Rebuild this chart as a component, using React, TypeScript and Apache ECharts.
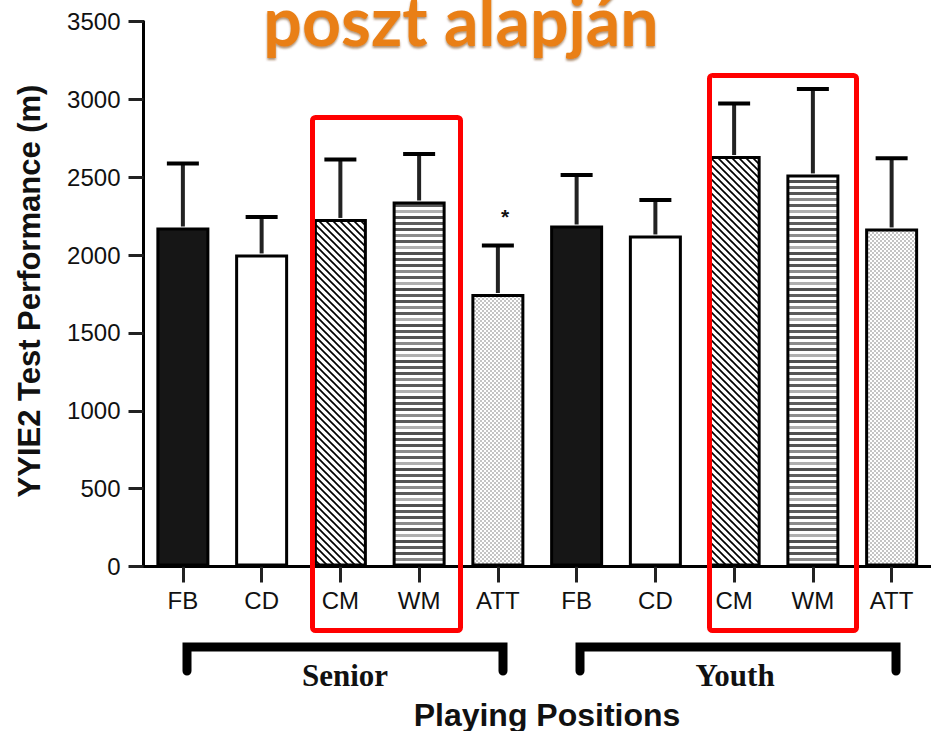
import React, { useEffect, useRef } from 'react';
import * as echarts from 'echarts';

// Playing positions, repeated for the senior and the youth group
const positions = ['FB', 'CD', 'CM', 'WM', 'ATT', 'FB', 'CD', 'CM', 'WM', 'ATT'];
const groupNames = ['Senior', 'Youth'];

// Yo-Yo IE2 distance (m): means and standard deviations
const seniorMeans = [2177, 2004, 2232, 2344, 1750];
const seniorSD = [411, 241, 382, 305, 311];
const youthMeans = [2190, 2126, 2636, 2518, 2171];
const youthSD = [324, 228, 338, 549, 450];

const yMin = 0;
const yMax = 3500;
const yStep = 500;

const titleText = 'poszt alapján';
const yAxisTitle = 'YYIE2 Test Performance (m)';
const xAxisTitle = 'Playing Positions';
const significanceMark = '*';

function makeTile(w: number, h: number, draw: (ctx: CanvasRenderingContext2D) => void) {
  const c = document.createElement('canvas');
  c.width = w;
  c.height = h;
  const ctx = c.getContext('2d')!;
  ctx.fillStyle = '#ffffff';
  ctx.fillRect(0, 0, w, h);
  draw(ctx);
  return c;
}

function buildFills() {
  const hatch = makeTile(7, 7, (ctx) => {
    ctx.strokeStyle = '#000';
    ctx.lineWidth = 1.7;
    for (let k = -1; k <= 1; k++) {
      ctx.beginPath();
      ctx.moveTo(k * 7 - 1, -1);
      ctx.lineTo(k * 7 + 8, 8);
      ctx.stroke();
    }
  });
  const stripes = makeTile(4, 36, (ctx) => {
    const greys = ['#505050', '#5e5e5e', '#555', '#8c8c8c', '#5a5a5a', '#b0b0b0'];
    greys.forEach((g, i) => {
      ctx.fillStyle = g;
      ctx.fillRect(0, i * 6, 4, 3);
    });
  });
  const checker = makeTile(4, 4, (ctx) => {
    ctx.fillStyle = '#c4c4c4';
    ctx.fillRect(0, 0, 2, 2);
    ctx.fillRect(2, 2, 2, 2);
  });
  const pat = (img: HTMLCanvasElement) => ({
    image: img,
    repeat: 'repeat',
    imageWidth: img.width,
    imageHeight: img.height,
  });
  return ['#161616', '#ffffff', pat(hatch), pat(stripes), pat(checker)];
}

function label(text: string, x: number, y: number, font: string, extra: any = {}) {
  return {
    type: 'text',
    x,
    y,
    ...extra,
    style: {
      text,
      font,
      fill: '#111',
      align: 'center',
      verticalAlign: 'middle',
      ...(extra.style || {}),
    },
  };
}

export default function App() {
  const ref = useRef<HTMLDivElement>(null);

  useEffect(() => {
    document.body.style.margin = '0';
    document.body.style.overflow = 'hidden';
    if (!ref.current) return;
    const chart = echarts.init(ref.current, undefined, { renderer: 'svg' });
    const fills = buildFills();

    const means = [...seniorMeans, ...youthMeans];
    const sds = [...seniorSD, ...youthSD];

    const barData = means.map((v, i) => ({
      value: v,
      itemStyle: { color: fills[i % 5] as any },
    }));
    const errData = means.map((v, i) => [i, v, sds[i]]);

    const axisFont = '"Liberation Sans", Arial, sans-serif';
    const serifFont = '"Liberation Serif", "Times New Roman", serif';

    chart.setOption({
      animation: false,
      backgroundColor: '#ffffff',
      grid: { left: 143.5, top: 21.5, width: 800, height: 545, containLabel: false },
      xAxis: {
        type: 'category',
        data: positions,
        boundaryGap: true,
        axisLine: { show: true, lineStyle: { color: '#000', width: 3 } },
        axisTick: { show: true, alignWithLabel: true, length: 16, lineStyle: { color: '#222', width: 3 } },
        axisLabel: { color: '#111', fontSize: 24, fontFamily: axisFont, margin: 22, interval: 0 },
        splitLine: { show: false },
      },
      yAxis: {
        type: 'value',
        min: yMin,
        max: yMax,
        interval: yStep,
        axisLine: { show: true, lineStyle: { color: '#000', width: 3 } },
        axisTick: { show: true, length: 15, lineStyle: { color: '#222', width: 3 } },
        axisLabel: {
          color: '#111',
          fontSize: 24,
          fontFamily: axisFont,
          margin: 23,
          formatter: (v: number) => String(v),
        },
        splitLine: { show: false },
      },
      series: [
        {
          type: 'bar',
          data: barData,
          barWidth: 53,
          itemStyle: { borderColor: '#000', borderWidth: 3 },
        },
        {
          type: 'custom',
          data: errData,
          encode: { x: 0, y: 1 },
          renderItem: (params: any, api: any) => {
            const idx = api.value(0);
            const mean = api.value(1);
            const sd = api.value(2);
            const base = api.coord([idx, mean]);
            const top = api.coord([idx, mean + sd]);
            const half = 16;
            return {
              type: 'group',
              children: [
                {
                  type: 'line',
                  shape: { x1: base[0], y1: base[1] - 1, x2: top[0], y2: top[1] },
                  style: { stroke: '#222', lineWidth: 4 },
                },
                {
                  type: 'line',
                  shape: { x1: top[0] - half, y1: top[1], x2: top[0] + half, y2: top[1] },
                  style: { stroke: '#000', lineWidth: 4 },
                },
              ],
            };
          },
        },
      ],
      graphic: [
        label(titleText, 461, 19, 'bold 68px Lato, "Open Sans", sans-serif', {
          z: 100,
          style: {
            fill: '#e97f15',
            textShadowColor: 'rgba(110,55,0,0.55)',
            textShadowBlur: 2,
            textShadowOffsetY: 2,
          },
        }),
        label(yAxisTitle, 29, 291, `bold 31px ${axisFont}`, { rotation: Math.PI / 2 }),
        label(xAxisTitle, 547, 715, `bold 32px ${axisFont}`),
        label(significanceMark, 505, 216, `bold 21px ${axisFont}`),
        // group brackets
        {
          type: 'polyline',
          shape: { points: [[187, 671], [187, 647], [503, 647], [503, 671]] },
          style: { stroke: '#000', lineWidth: 9, fill: null, lineCap: 'round', lineJoin: 'miter' },
        },
        {
          type: 'polyline',
          shape: { points: [[580, 671], [580, 647], [896, 647], [896, 671]] },
          style: { stroke: '#000', lineWidth: 9, fill: null, lineCap: 'round', lineJoin: 'miter' },
        },
        label(groupNames[0], 345, 675, `bold 31px ${serifFont}`),
        label(groupNames[1], 735, 675, `bold 31px ${serifFont}`),
        // highlight boxes around the midfield positions
        {
          type: 'rect',
          z: 50,
          shape: { x: 312.5, y: 117.5, width: 148, height: 513, r: 3 },
          style: { stroke: '#ff0000', lineWidth: 5, fill: null },
        },
        {
          type: 'rect',
          z: 50,
          shape: { x: 709.5, y: 75.5, width: 147, height: 555, r: 3 },
          style: { stroke: '#ff0000', lineWidth: 5, fill: null },
        },
      ],
    });

    return () => chart.dispose();
  }, []);

  return <div ref={ref} style={{ width: 931, height: 731 }} />;
}
